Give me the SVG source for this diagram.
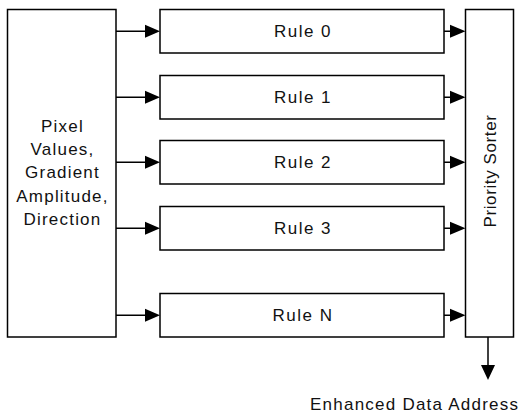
<svg xmlns="http://www.w3.org/2000/svg" width="521" height="415" viewBox="0 0 521 415">
<style>
.box{fill:#fff;stroke:#000;stroke-width:1.5}
.ln{stroke:#000;stroke-width:1.5;fill:none}
.ah{fill:#000}
text{font-family:"Liberation Sans",Arial,sans-serif;font-size:17px;fill:#111;letter-spacing:1.5px}
.mid{text-anchor:middle}
.lb{letter-spacing:1.2px}
</style>
<rect width="521" height="415" fill="#fff"/>
<g id="input">
<rect class="box" x="7.5" y="9.5" width="108.5" height="327.5"/>
<text class="mid lb" x="62.5" y="131.7">Pixel</text>
<text class="mid lb" x="62.5" y="155">Values,</text>
<text class="mid lb" x="62.5" y="178.3">Gradient</text>
<text class="mid lb" x="62.5" y="201.7">Amplitude,</text>
<text class="mid lb" x="62.5" y="225">Direction</text>
</g>
<g id="rule0"><rect class="box" x="160" y="9.5" width="284" height="43.5"/><text class="mid" x="303" y="37">Rule 0</text></g>
<g id="rule1"><rect class="box" x="160" y="75.5" width="284" height="43.5"/><text class="mid" x="303" y="103">Rule 1</text></g>
<g id="rule2"><rect class="box" x="160" y="140.5" width="284" height="43.5"/><text class="mid" x="303" y="168">Rule 2</text></g>
<g id="rule3"><rect class="box" x="160" y="206.5" width="284" height="43.5"/><text class="mid" x="303" y="234">Rule 3</text></g>
<g id="ruleN"><rect class="box" x="160" y="293.5" width="284" height="43.5"/><text class="mid" x="303" y="321">Rule N</text></g>
<g id="sorter">
<rect class="box" x="465.5" y="9.5" width="48" height="327.5"/>
<text class="mid" transform="translate(495.5,171) rotate(-90)" style="letter-spacing:0.6px">Priority Sorter</text>
</g>
<g id="output"><text x="310" y="410" textLength="208" lengthAdjust="spacing" style="letter-spacing:0">Enhanced Data Address</text></g>
<g id="connectors">
<path class="ln" d="M116 31.25H146M116 97.25H146M116 162.25H146M116 228.25H146M116 315.25H146"/>
<path class="ah" d="M145 24.75L160 31.25L145 37.75Z M145 90.75L160 97.25L145 103.75Z M145 155.75L160 162.25L145 168.75Z M145 221.75L160 228.25L145 234.75Z M145 308.75L160 315.25L145 321.75Z"/>
<path class="ln" d="M444 31.25H451M444 97.25H451M444 162.25H451M444 228.25H451M444 315.25H451"/>
<path class="ah" d="M450 24.75L465.5 31.25L450 37.75Z M450 90.75L465.5 97.25L450 103.75Z M450 155.75L465.5 162.25L450 168.75Z M450 221.75L465.5 228.25L450 234.75Z M450 308.75L465.5 315.25L450 321.75Z"/>
<path class="ln" d="M488 337V366"/>
<path class="ah" d="M481 365L488 380L495 365Z"/>
</g>
</svg>
